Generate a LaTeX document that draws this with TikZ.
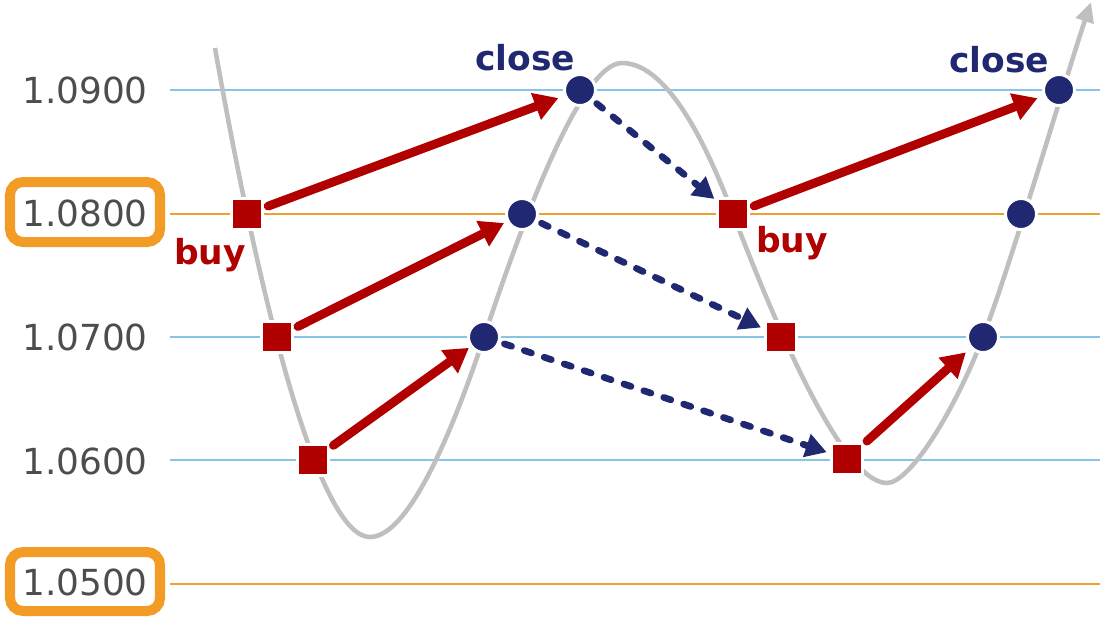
\documentclass[tikz,border=0pt]{standalone}
\usepackage{fontspec}
\setmainfont{DejaVu Sans}
\usetikzlibrary{arrows.meta}
\definecolor{lblue}{HTML}{86C5E8}
\definecolor{lorange}{HTML}{F0A030}
\definecolor{borange}{HTML}{F39C25}
\definecolor{dred}{HTML}{B00000}
\definecolor{navy}{HTML}{1F2870}
\definecolor{cgray}{HTML}{BFBFBF}
\definecolor{tgray}{HTML}{4D4D4D}
\begin{document}
\begin{tikzpicture}[x=0.01cm,y=-0.01cm,
  hline/.style={line width=0.57pt},
  pricelbl/.style={text=tgray, font=\fontsize{10.2}{12}\selectfont, inner sep=0},
  pricebox/.style={draw=borange, line width=2.85pt, rounded corners=0.13cm},
  buynode/.style={rectangle, fill=dred, draw=white, line width=0.85pt, minimum size=0.31cm, inner sep=0, outer sep=0},
  closenode/.style={circle, fill=navy, draw=white, line width=0.85pt, minimum size=0.31cm, inner sep=0, outer sep=0},
  redarrow/.style={draw=dred, line width=2.5pt, line cap=round, -{Triangle[length=0.24cm,width=0.27cm]}, shorten <=0.06cm, shorten >=0.075cm},
  bluearrow/.style={draw=navy, line width=1.9pt, line cap=round, dash pattern=on 0.075cm off 0.135cm, -{Triangle[length=0.21cm,width=0.23cm]}, shorten <=0.06cm, shorten >=0.05cm},
  closelbl/.style={text=navy, font=\fontsize{9.8}{11}\selectfont\bfseries, inner sep=0, anchor=base},
  buylbl/.style={text=dred, font=\fontsize{9.8}{11}\selectfont\bfseries, inner sep=0, anchor=base}]
\useasboundingbox (0,0) rectangle (1100,620);
% horizontal lines
\draw[hline, draw=lblue] (170,90) -- (1100,90);
\draw[hline, draw=lorange] (170,214) -- (1100,214);
\draw[hline, draw=lblue] (170,337) -- (1100,337);
\draw[hline, draw=lblue] (170,460) -- (1100,460);
\draw[hline, draw=lorange] (170,584) -- (1100,584);
% price labels
\draw[pricebox] (10,182) rectangle (160,242);
\draw[pricebox] (10,552) rectangle (160,611);
\node[pricelbl] (p1) at (85,90) {1.0900};
\node[pricelbl] (p2) at (85,213) {1.0800};
\node[pricelbl] (p3) at (85,337) {1.0700};
\node[pricelbl] (p4) at (85,461) {1.0600};
\node[pricelbl] (p5) at (85,582) {1.0500};
% curve
\draw[cgray, line width=1.3pt, -{Triangle[length=0.2cm,width=0.18cm]}]
  (215,48) .. controls (265,330) and (322,537) .. (370,537)
  .. controls (410,537) and (455,424) .. (484,337)
  .. controls (520,229) and (580,63) .. (622,63)
  .. controls (670,63) and (710,154) .. (733,214)
  .. controls (770,310) and (840,483) .. (887,483)
  .. controls (910,483) and (955,410) .. (983,337)
  .. controls (1011,264) and (1065,80) .. (1091,2);
% nodes
\node[buynode] (b1) at (247,214) {};
\node[buynode] (b2) at (277,337) {};
\node[buynode] (b3) at (313,460) {};
\node[buynode] (b4) at (733,214) {};
\node[buynode] (b5) at (781,337) {};
\node[buynode] (b6) at (847,459) {};
\node[closenode] (c1) at (580,90) {};
\node[closenode] (c2) at (522,214) {};
\node[closenode] (c3) at (484,337) {};
\node[closenode] (c4) at (1059,90) {};
\node[closenode] (c5) at (1021,214) {};
\node[closenode] (c6) at (983,337) {};
% arrows
\draw[redarrow] (b1) -- (c1);
\draw[redarrow, shorten >=0.045cm] (b2) -- (c2);
\draw[redarrow, shorten >=0.03cm] (b3) -- (c3);
\draw[redarrow] (b4) -- (c4);
\draw[redarrow] (b6) -- (c6);
\draw[bluearrow, shorten >=0.04cm] (c1) -- (b4);
\draw[bluearrow] (c2) -- (b5);
\draw[bluearrow] (c3) -- (b6);
% labels
\node[closelbl] (l1) at (525,70) {close};
\node[closelbl] (l2) at (999,72) {close};
\node[buylbl] (l3) at (210,264) {buy};
\node[buylbl] (l4) at (792,252) {buy};
\end{tikzpicture}
\end{document}
